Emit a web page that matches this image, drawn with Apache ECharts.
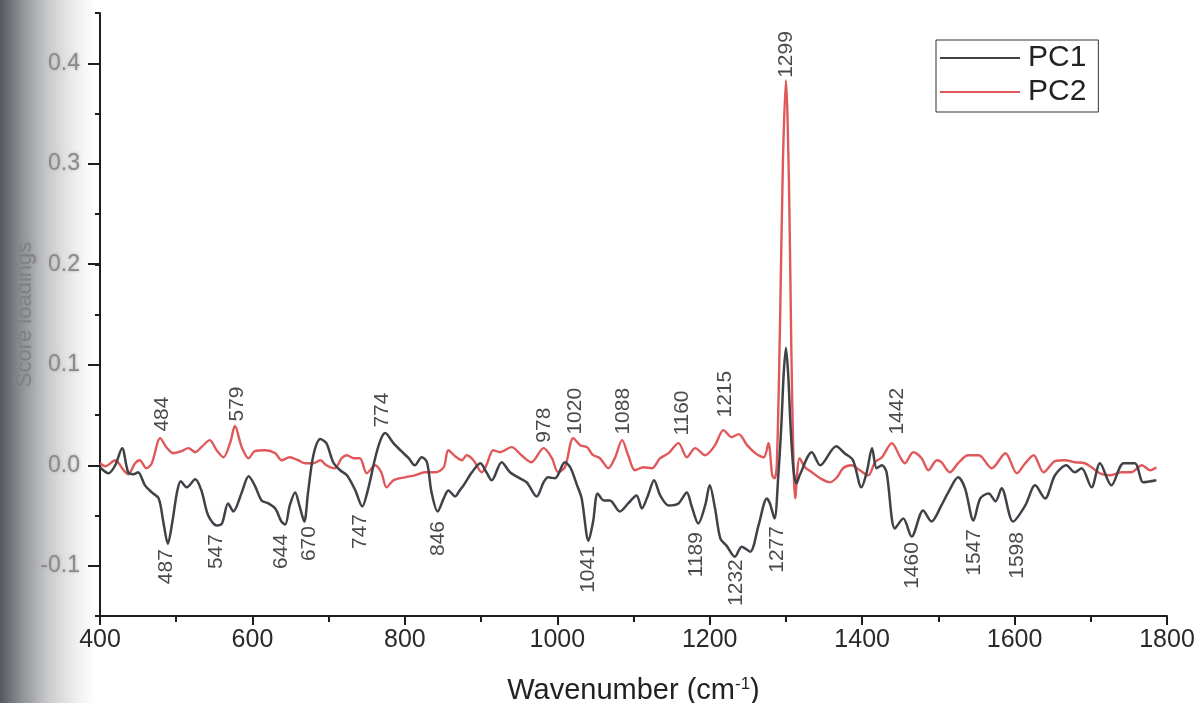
<!DOCTYPE html>
<html>
<head>
<meta charset="utf-8">
<title>PC loadings</title>
<script src="https://cdn.jsdelivr.net/npm/echarts@6/dist/echarts.min.js"></script>
<style>
  html, body { margin: 0; padding: 0; }
  body {
    width: 1201px;
    height: 703px;
    background: linear-gradient(to right, #55585e 0px, #8f9296 22px, #c9cacc 48px, #eeeeee 75px, #ffffff 95px);
  }
  #chart { width: 1201px; height: 703px; }
</style>
</head>
<body>
<div id="chart"></div>
<script>
(() => {
  "use strict";

  // PC1 loading
  const pc1Wavenumber = [
    400, 411, 420, 429, 437, 444, 450, 459, 468, 477, 483, 489, 495, 501, 506, 514,
    525, 533, 542, 553, 560, 568, 575, 586, 595, 603, 612, 621, 630, 638, 643, 649,
    656, 662, 668, 673, 680, 689, 697, 706, 715, 724, 735, 744, 752, 761, 768, 774,
    785, 794, 805, 813, 822, 829, 835, 843, 851, 857, 866, 872, 877, 888, 899, 907,
    914, 927, 938, 951, 960, 973, 982, 988, 997, 1010, 1017, 1026, 1032, 1041, 1047, 1053,
    1061, 1069, 1082, 1093, 1104, 1111, 1119, 1127, 1135, 1146, 1159, 1170, 1176, 1185, 1194, 1200,
    1207, 1214, 1222, 1233, 1242, 1253, 1264, 1275, 1279, 1285, 1290, 1294, 1297, 1300, 1303, 1306,
    1310, 1314, 1318, 1334, 1345, 1366, 1377, 1388, 1399, 1406, 1413, 1419, 1426, 1432, 1443, 1454,
    1465, 1480, 1491, 1504, 1513, 1526, 1535, 1546, 1555, 1566, 1575, 1583, 1598, 1614, 1627, 1640,
    1653, 1668, 1679, 1688, 1701, 1712, 1727, 1743, 1758, 1769, 1786
  ];
  const pc1Loading = [
    -0.002, -0.008, 0.000, 0.017, -0.007, -0.009, -0.007, -0.020, -0.027, -0.033, -0.056, -0.078, -0.056, -0.027, -0.016, -0.022,
    -0.014, -0.025, -0.050, -0.060, -0.058, -0.038, -0.046, -0.027, -0.011, -0.020, -0.035, -0.038, -0.043, -0.056, -0.059, -0.040,
    -0.027, -0.041, -0.056, -0.027, 0.010, 0.026, 0.022, 0.003, -0.005, -0.010, -0.025, -0.041, -0.023, 0.007, 0.025, 0.032,
    0.022, 0.015, 0.007, 0.000, 0.008, 0.003, -0.027, -0.046, -0.033, -0.025, -0.031, -0.025, -0.020, -0.007, 0.002, -0.007,
    -0.015, 0.003, -0.007, -0.013, -0.017, -0.031, -0.017, -0.012, -0.013, 0.003, -0.002, -0.020, -0.033, -0.075, -0.056, -0.028,
    -0.035, -0.035, -0.046, -0.038, -0.030, -0.043, -0.030, -0.015, -0.030, -0.040, -0.038, -0.027, -0.040, -0.058, -0.040, -0.020,
    -0.043, -0.073, -0.080, -0.091, -0.081, -0.086, -0.060, -0.033, -0.038, -0.053, -0.010, 0.040, 0.090, 0.117, 0.090, 0.040,
    -0.005, -0.018, -0.010, 0.013, 0.000, 0.019, 0.012, 0.005, -0.022, -0.007, 0.017, -0.003, 0.000, -0.007, -0.063, -0.053,
    -0.071, -0.045, -0.056, -0.040, -0.027, -0.012, -0.023, -0.055, -0.033, -0.028, -0.036, -0.023, -0.056, -0.040, -0.020, -0.033,
    -0.010, 0.000, -0.007, -0.003, -0.022, 0.002, -0.020, 0.002, 0.002, -0.017, -0.015
  ];

  // PC2 loading
  const pc2Wavenumber = [
    400, 407, 420, 431, 437, 446, 452, 461, 468, 479, 487, 496, 507, 516, 525, 533,
    544, 553, 562, 571, 577, 586, 595, 603, 617, 630, 638, 649, 660, 669, 680, 689,
    697, 708, 717, 724, 733, 741, 750, 761, 769, 776, 785, 800, 813, 826, 840, 851,
    857, 866, 875, 881, 890, 901, 907, 916, 925, 940, 953, 966, 982, 993, 1001, 1010,
    1021, 1030, 1039, 1047, 1056, 1067, 1076, 1085, 1093, 1102, 1113, 1124, 1135, 1146, 1159, 1170,
    1181, 1194, 1207, 1218, 1229, 1238, 1249, 1260, 1271, 1277, 1282, 1285, 1288, 1292, 1296, 1300,
    1304, 1307, 1310, 1312, 1318, 1325, 1334, 1345, 1358, 1367, 1375, 1386, 1397, 1408, 1417, 1426,
    1439, 1450, 1456, 1467, 1478, 1487, 1498, 1504, 1515, 1526, 1539, 1553, 1570, 1588, 1603, 1614,
    1625, 1638, 1653, 1666, 1679, 1692, 1701, 1712, 1725, 1740, 1753, 1767, 1778, 1786
  ];
  const pc2Loading = [
    0.002, -0.001, 0.005, -0.005, -0.009, 0.002, 0.005, -0.003, 0.002, 0.027, 0.018, 0.012, 0.014, 0.017, 0.013, 0.018,
    0.025, 0.015, 0.008, 0.023, 0.039, 0.018, 0.007, 0.014, 0.015, 0.012, 0.005, 0.008, 0.005, 0.002, 0.002, 0.005,
    0.000, -0.003, 0.007, 0.010, 0.007, 0.007, -0.008, 0.000, -0.007, -0.022, -0.015, -0.012, -0.010, -0.007, -0.007, -0.002,
    0.015, 0.009, 0.005, 0.010, 0.005, -0.007, 0.000, 0.015, 0.013, 0.018, 0.010, 0.003, 0.017, 0.007, -0.007, -0.002,
    0.027, 0.020, 0.018, 0.010, 0.007, -0.003, 0.008, 0.025, 0.010, -0.005, -0.002, -0.003, 0.007, 0.012, 0.022, 0.008,
    0.017, 0.010, 0.020, 0.035, 0.028, 0.031, 0.020, 0.012, 0.008, 0.022, -0.010, -0.013, 0.000, 0.130, 0.300, 0.383,
    0.280, 0.120, 0.000, -0.033, 0.007, -0.002, -0.007, -0.013, -0.017, -0.012, -0.003, 0.000, -0.005, -0.010, 0.003, 0.008,
    0.022, 0.008, 0.002, 0.013, 0.007, -0.005, 0.005, 0.003, -0.007, 0.002, 0.010, 0.010, -0.003, 0.012, -0.008, 0.002,
    0.010, -0.007, 0.004, 0.005, 0.003, 0.002, -0.002, -0.008, -0.010, -0.007, -0.007, 0.000, -0.005, -0.002
  ];

  // band labels above the traces: text, wavenumber where it sits, loading at its lower end
  const upLabelText = ["484", "579", "774", "978", "1020", "1088", "1160", "1215", "1299", "1442"];
  const upLabelAt = [482, 580, 770, 983, 1024, 1086, 1164, 1220, 1301, 1446];
  const upLabelEdge = [0.031, 0.041, 0.035, 0.020, 0.028, 0.028, 0.027, 0.045, 0.383, 0.028];

  // band labels below the traces: text, wavenumber, loading at its upper end
  const downLabelText = ["487", "547", "644", "670", "747", "846", "1041", "1189", "1232", "1277", "1460", "1547", "1598"];
  const downLabelAt = [487, 553, 638, 675, 741, 844, 1040, 1182, 1235, 1288, 1466, 1547, 1604];
  const downLabelEdge = [-0.081, -0.066, -0.066, -0.058, -0.046, -0.053, -0.078, -0.064, -0.091, -0.058, -0.074, -0.061, -0.064];

  const legendNames = ["PC1", "PC2"];

  const zip = (xs, ys) => xs.map((x, i) => [x, ys[i]]);
  const labelData = (texts, xs, ys) => texts.map((t, i) => ({ name: t, value: [xs[i], ys[i]] }));

  const axisColor = "#1e1e1e";
  const font = "'Liberation Sans', Arial, sans-serif";

  const chart = echarts.init(document.getElementById("chart"), null, { renderer: "canvas" });

  const peakLabel = (side) => ({
    show: true,
    formatter: (p) => p.name,
    position: side === "up" ? "top" : "bottom",
    distance: 2,
    rotate: 90,
    align: side === "up" ? "left" : "right",
    verticalAlign: "middle",
    color: "#1c1c1c",
    fontFamily: font,
    fontSize: 21,
  });

  chart.setOption({
    animation: false,
    textStyle: { fontFamily: font },
    grid: [
      { left: 100, right: 34, top: 13, bottom: 87, outerBoundsMode: "none", containLabel: false },
      // second grid only carries the labelled y ticks (-0.1 .. 0.4)
      { left: 100, right: 34, top: 63.25, bottom: 137.25, outerBoundsMode: "none", containLabel: false },
    ],
    legend: {
      data: legendNames.map((name) => ({ name, icon: "rect" })),
      orient: "vertical",
      left: 936,
      top: 40,
      padding: [3, 12, 5, 4],
      itemGap: 4,
      itemWidth: 80,
      itemHeight: 2,
      borderColor: "#333",
      borderWidth: 1,
      textStyle: { fontSize: 30, color: "#222", fontFamily: font, padding: [0, 0, 0, 3] },
    },
    xAxis: [
      {
        type: "value",
        gridIndex: 0,
        min: 400,
        max: 1800,
        interval: 200,
        name: "{a|Wavenumber (cm}{s|-1}{a|)}",
        nameLocation: "middle",
        nameGap: 60,
        nameTextStyle: {
          rich: {
            a: { fontSize: 29, color: "#222", fontFamily: font },
            s: { fontSize: 17, color: "#222", fontFamily: font, verticalAlign: "top", padding: [0, 0, 12, 0] },
          },
        },
        axisLine: { onZero: false, lineStyle: { color: axisColor, width: 2 } },
        axisTick: { length: 9, lineStyle: { color: axisColor, width: 2 } },
        minorTick: { show: true, splitNumber: 2, length: 6, lineStyle: { color: axisColor, width: 2 } },
        axisLabel: { fontSize: 25, color: "#2a2a2a", margin: 12, formatter: (v) => String(v) },
        splitLine: { show: false },
      },
      {
        type: "value",
        gridIndex: 1,
        min: 400,
        max: 1800,
        axisLine: { show: false, onZero: false },
        axisTick: { show: false },
        axisLabel: { show: false },
        splitLine: { show: false },
      },
    ],
    yAxis: [
      {
        type: "value",
        gridIndex: 0,
        min: -0.15,
        max: 0.45,
        interval: 0.05,
        name: "Score loadings",
        nameLocation: "middle",
        nameGap: 64,
        nameTextStyle: {
          fontSize: 22,
          color: "#808185",
          textShadowColor: "#909090",
          textShadowBlur: 4,
        },
        axisLine: { onZero: false, lineStyle: { color: axisColor, width: 2 } },
        axisTick: { length: 5, lineStyle: { color: axisColor, width: 2 } },
        axisLabel: { show: false },
        splitLine: { show: false },
      },
      {
        type: "value",
        gridIndex: 1,
        min: -0.1,
        max: 0.4,
        interval: 0.1,
        axisLine: { show: false, onZero: false },
        axisTick: { length: 12, lineStyle: { color: axisColor, width: 2 } },
        axisLabel: {
          fontSize: 23,
          color: "#8a8a8a",
          margin: 20,
          textShadowColor: "#aaaaaa",
          textShadowBlur: 3,
          formatter: (v) => v.toFixed(1),
        },
        splitLine: { show: false },
      },
    ],
    series: [
      {
        name: "PC1",
        type: "line",
        xAxisIndex: 0,
        yAxisIndex: 0,
        symbol: "none",
        smooth: 0.3,
        lineStyle: { color: "#3f4246", width: 2.5 },
        itemStyle: { color: "#3f4246" },
        data: zip(pc1Wavenumber, pc1Loading),
        z: 3,
      },
      {
        name: "PC2",
        type: "line",
        xAxisIndex: 0,
        yAxisIndex: 0,
        symbol: "none",
        smooth: 0.3,
        lineStyle: { color: "#e0585a", width: 2.4 },
        itemStyle: { color: "#e0585a" },
        data: zip(pc2Wavenumber, pc2Loading),
        z: 2,
      },
      {
        name: "up-labels",
        type: "scatter",
        xAxisIndex: 0,
        yAxisIndex: 0,
        symbolSize: 1,
        itemStyle: { color: "transparent" },
        label: peakLabel("up"),
        data: labelData(upLabelText, upLabelAt, upLabelEdge),
        z: 4,
      },
      {
        name: "down-labels",
        type: "scatter",
        xAxisIndex: 0,
        yAxisIndex: 0,
        symbolSize: 1,
        itemStyle: { color: "transparent" },
        label: peakLabel("down"),
        data: labelData(downLabelText, downLabelAt, downLabelEdge),
        z: 4,
      },
    ],
  });
})();
</script>
</body>
</html>
